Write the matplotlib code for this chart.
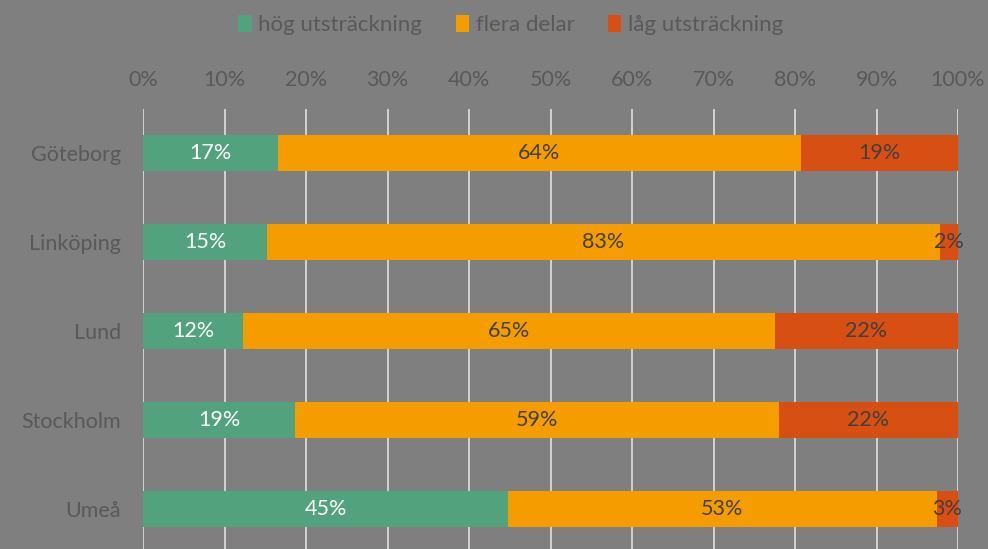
import matplotlib.pyplot as plt
import numpy as np

plt.rcParams['font.family'] = ['Lato', 'DejaVu Sans']

stader = ['Göteborg', 'Linköping', 'Lund', 'Stockholm', 'Umeå']
hog = [16.6, 15.2, 12.3, 18.7, 44.8]
flera = [64.1, 82.6, 65.2, 59.3, 52.6]
lag = [19.3, 2.2, 22.5, 22.0, 2.6]
serier = ['hög utsträckning', 'flera delar', 'låg utsträckning']
farger = ['#52a37d', '#f59d00', '#d84f14']
textfarg = ['white', '#404040', '#404040']

bg = '#7f7f7f'
fig = plt.figure(figsize=(9.88, 5.49), dpi=100, facecolor=bg)
ax = fig.add_axes([143 / 988, -4.5 / 549, 815 / 988, 445 / 549], facecolor=bg)

y = np.arange(len(stader))
vanster = np.zeros(len(stader))
for vals, namn, f, tf in zip([hog, flera, lag], serier, farger, textfarg):
    vals = np.array(vals)
    bars = ax.barh(y, vals, left=vanster, height=0.4, color=f, label=namn, zorder=3)
    for b, v in zip(bars, vals):
        ax.text(b.get_x() + b.get_width() / 2, b.get_y() + b.get_height() / 2,
                f'{round(v):.0f}%', ha='center', va='center', color=tf,
                fontsize=15.5, zorder=4)
    vanster += vals

ax.set_xlim(0, 100)
ax.set_ylim(len(stader) - 0.5, -0.5)
ax.set_xticks(np.arange(0, 101, 10))
ax.set_xticklabels([f'{v}%' for v in range(0, 101, 10)])
ax.xaxis.tick_top()
ax.tick_params(axis='x', length=0, pad=13, labelsize=15.5, labelcolor='#595959')
ax.set_yticks(y)
ax.set_yticklabels(stader)
ax.tick_params(axis='y', length=0, pad=16, labelsize=15.5, labelcolor='#595959')
ax.grid(axis='x', color='#d9d9d9', linewidth=1.3, zorder=0)
for s in ax.spines.values():
    s.set_visible(False)

leg = fig.legend(loc='upper center', bbox_to_anchor=(0.517, 1.01), ncol=3, frameon=False,
                 fontsize=16, handlelength=0.6, handleheight=0.8, handletextpad=0.3,
                 columnspacing=1.5)
for t in leg.get_texts():
    t.set_color('#595959')

fig.savefig('out.png', dpi=100, facecolor=bg)
